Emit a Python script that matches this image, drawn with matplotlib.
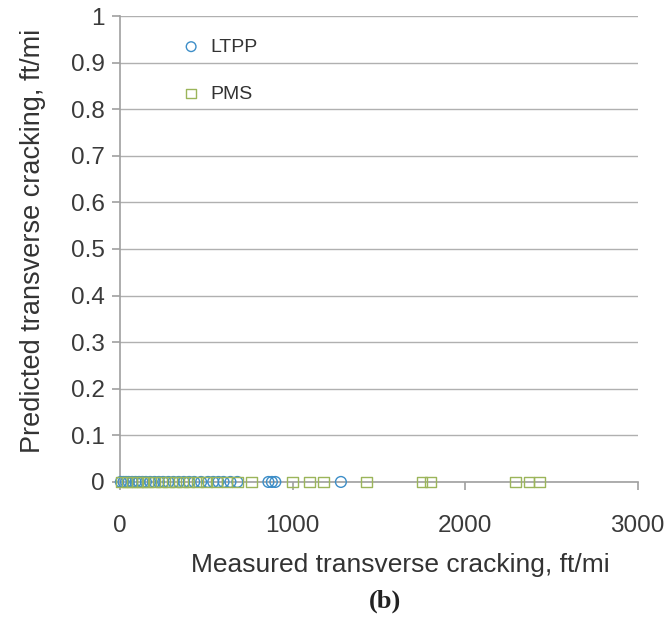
import matplotlib.pyplot as plt

plt.rcParams['font.family'] = ['Liberation Sans', 'DejaVu Sans']

# measured transverse cracking (ft/mi); the model predicts 0 for every section
ltpp_measured = [5, 20, 35, 50, 70, 90, 110, 130, 150, 175, 200, 225, 250, 280, 310,
                 340, 370, 400, 430, 470, 510, 540, 570, 600, 640, 680, 860, 880, 900, 1280]
ltpp_predicted = [0] * len(ltpp_measured)

pms_measured = [10, 40, 70, 100, 130, 160, 200, 240, 280, 320, 360, 400, 450, 500,
                560, 620, 680, 760, 1000, 1100, 1180, 1430, 1750, 1800, 2290, 2370, 2430]
pms_predicted = [0] * len(pms_measured)

fig = plt.figure(figsize=(6.72, 6.3), dpi=100)
ax = fig.add_axes([0.1786, 0.235, 0.7704, 0.7396])

ax.scatter(ltpp_measured, ltpp_predicted, s=60, marker='o', facecolors='none',
           edgecolors='#3d8ec8', linewidths=1.0, label='LTPP', zorder=3, clip_on=False)
ax.scatter(pms_measured, pms_predicted, s=60, marker='s', facecolors='none',
           edgecolors='#9bb55a', linewidths=1.0, label='PMS', zorder=3, clip_on=False)

ax.set_xlim(0, 3000)
ax.set_ylim(0, 1)
ax.set_xticks([0, 1000, 2000, 3000])
ax.set_yticks([i / 10 for i in range(11)])
ax.set_yticklabels(['0', '0.1', '0.2', '0.3', '0.4', '0.5', '0.6', '0.7', '0.8', '0.9', '1'])

ax.yaxis.grid(True, color='#b0b0b0', linewidth=1.0)
ax.set_axisbelow(True)
for side in ['top', 'right']:
    ax.spines[side].set_visible(False)
for side in ['left', 'bottom']:
    ax.spines[side].set_color('#a0a0a0')
    ax.spines[side].set_linewidth(1.2)
ax.tick_params(axis='both', colors='#a0a0a0', labelcolor='#3a3a3a', labelsize=17.5,
               length=6, width=1.2, direction='out')
ax.tick_params(axis='x', pad=18)
ax.tick_params(axis='y', pad=5)

ax.set_xlabel('Measured transverse cracking, ft/mi', fontsize=19, color='#333333')
ax.set_ylabel('Predicted transverse cracking, ft/mi', fontsize=19.5, color='#333333')
ax.xaxis.set_label_coords(0.542, -0.152)
ax.yaxis.set_label_coords(-0.143, 0.517)

leg = ax.legend(loc='upper left', bbox_to_anchor=(0.066, 0.99), frameon=False, fontsize=14,
                labelspacing=1.5, handletextpad=0.0, markerscale=0.9)
for t in leg.get_texts():
    t.set_color('#333333')

fig.text(0.573, 0.045, '(b)', fontsize=19, fontweight='bold', family='Liberation Serif',
         ha='center', va='center', color='#222222')

fig.savefig('out.png', dpi=100)
